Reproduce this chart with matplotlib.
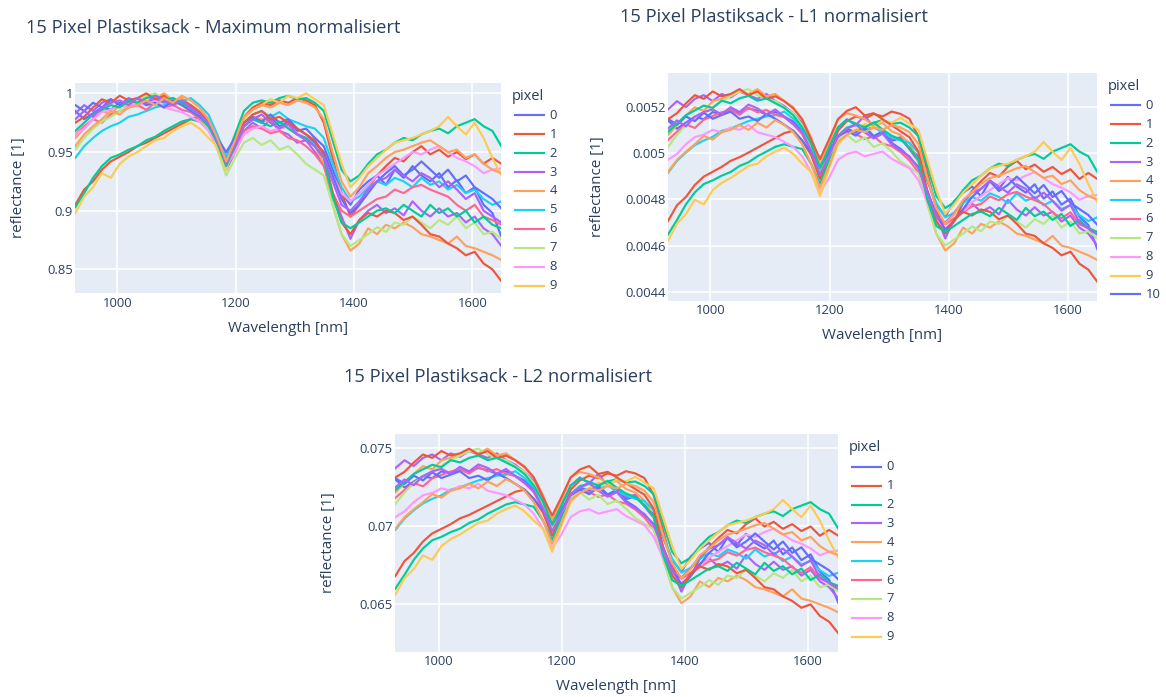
import matplotlib.pyplot as plt
from matplotlib.lines import Line2D
import numpy as np

plt.rcParams['font.family'] = ['Open Sans', 'DejaVu Sans']

# wavelength grid [nm]
wavelength = np.arange(929, 1650, 15)

# --- Maximum normalisiert (x 1e-3) ---
mx0 = [985, 978, 983, 988, 986, 992, 990, 994, 991, 995, 993, 990, 992, 988, 984, 976, 962, 946, 958, 972, 978, 975, 980, 972, 976, 968, 970, 962, 955, 935, 915, 905, 918, 925, 930, 922, 935, 928, 938, 930, 925, 932, 920, 926, 915, 920, 905, 898, 878]
mx1 = [905, 918, 925, 935, 942, 946, 950, 955, 958, 962, 966, 970, 974, 978, 980, 972, 960, 940, 958, 980, 988, 992, 990, 994, 992, 996, 994, 990, 975, 945, 915, 895, 905, 920, 930, 938, 945, 942, 950, 955, 948, 952, 946, 950, 944, 948, 940, 945, 940]
mx2 = [903, 915, 928, 938, 945, 948, 952, 955, 960, 963, 968, 972, 976, 978, 976, 974, 962, 945, 965, 985, 992, 994, 992, 996, 998, 995, 996, 992, 985, 960, 935, 925, 930, 940, 948, 952, 958, 962, 960, 965, 968, 970, 966, 972, 975, 978, 972, 968, 955]
mx3 = [983, 990, 985, 992, 995, 990, 996, 993, 998, 995, 992, 996, 990, 986, 980, 972, 958, 935, 950, 968, 975, 970, 978, 968, 965, 958, 960, 950, 940, 915, 895, 876, 892, 900, 905, 898, 902, 896, 908, 900, 895, 902, 895, 898, 890, 895, 885, 880, 870]
mx4 = [962, 970, 978, 985, 982, 990, 992, 995, 998, 996, 1000, 994, 996, 990, 985, 975, 960, 938, 955, 975, 980, 978, 975, 970, 972, 965, 962, 955, 940, 905, 880, 866, 872, 885, 880, 888, 885, 890, 886, 880, 878, 875, 872, 878, 870, 868, 865, 862, 858]
mx5 = [945, 955, 962, 968, 972, 975, 980, 982, 985, 988, 990, 992, 993, 996, 990, 982, 965, 945, 960, 975, 982, 985, 980, 984, 978, 975, 972, 970, 962, 940, 920, 908, 912, 920, 925, 922, 928, 925, 920, 928, 922, 925, 918, 922, 915, 918, 910, 905, 908]
mx6 = [965, 972, 978, 975, 982, 985, 988, 990, 986, 992, 988, 990, 986, 984, 978, 970, 955, 940, 952, 968, 972, 970, 966, 968, 962, 960, 955, 948, 938, 915, 900, 895, 900, 905, 910, 912, 918, 915, 920, 922, 918, 915, 912, 905, 900, 905, 895, 892, 888]
mx7 = [952, 962, 970, 976, 980, 985, 990, 994, 998, 1000, 995, 992, 990, 985, 980, 970, 952, 930, 945, 958, 962, 956, 960, 952, 955, 948, 940, 935, 930, 905, 880, 870, 875, 880, 886, 882, 890, 888, 895, 890, 885, 892, 888, 895, 885, 890, 880, 882, 876]
mx8 = [965, 970, 978, 984, 986, 990, 988, 992, 990, 994, 988, 986, 984, 980, 976, 968, 955, 938, 950, 965, 970, 972, 968, 970, 972, 966, 962, 958, 948, 930, 915, 908, 915, 922, 930, 935, 940, 945, 950, 948, 952, 955, 950, 945, 942, 938, 932, 935, 936]
mx9 = [898, 912, 920, 932, 928, 940, 946, 950, 955, 960, 962, 968, 972, 975, 970, 962, 955, 935, 958, 978, 986, 990, 995, 992, 998, 996, 1000, 995, 990, 965, 940, 920, 928, 938, 945, 952, 958, 960, 962, 965, 968, 972, 980, 972, 965, 975, 962, 945, 930]
mx10 = [990, 985, 992, 988, 995, 990, 993, 996, 990, 992, 988, 994, 990, 985, 980, 972, 962, 950, 962, 975, 980, 976, 982, 975, 978, 970, 965, 958, 950, 930, 910, 898, 905, 915, 925, 932, 938, 930, 935, 942, 935, 928, 935, 925, 930, 920, 915, 910, 902]
mx11 = [975, 980, 988, 995, 992, 998, 994, 996, 1000, 995, 998, 992, 994, 990, 984, 975, 958, 942, 958, 975, 982, 985, 978, 980, 975, 970, 965, 960, 948, 915, 890, 880, 892, 898, 895, 900, 898, 892, 895, 888, 880, 878, 872, 868, 862, 865, 855, 850, 840]
mx12 = [968, 975, 982, 986, 990, 988, 994, 992, 996, 998, 994, 996, 992, 988, 982, 972, 958, 938, 955, 972, 978, 975, 972, 976, 970, 965, 962, 955, 945, 912, 890, 885, 890, 895, 900, 902, 898, 905, 900, 895, 905, 898, 902, 895, 900, 890, 895, 888, 885]
mx13 = [978, 985, 980, 988, 992, 994, 990, 996, 992, 998, 995, 990, 994, 988, 982, 975, 960, 940, 956, 972, 978, 982, 975, 970, 974, 965, 960, 955, 945, 925, 905, 900, 908, 918, 925, 928, 935, 930, 925, 932, 928, 920, 925, 918, 910, 915, 900, 895, 890]
mx14 = [955, 965, 972, 978, 985, 982, 988, 990, 994, 990, 996, 992, 998, 994, 988, 978, 962, 942, 960, 980, 986, 990, 988, 992, 990, 994, 992, 988, 978, 950, 925, 912, 920, 932, 938, 945, 950, 952, 955, 958, 960, 955, 950, 952, 945, 948, 940, 935, 932]

# --- L1 normalisiert (x 1e-6) ---
l1_0 = [5141, 5105, 5131, 5157, 5146, 5177, 5167, 5188, 5172, 5193, 5183, 5167, 5177, 5157, 5136, 5094, 5021, 4938, 5001, 5073, 5105, 5089, 5115, 5073, 5094, 5053, 5063, 5021, 4985, 4881, 4777, 4725, 4793, 4829, 4855, 4813, 4881, 4845, 4897, 4855, 4829, 4865, 4803, 4834, 4777, 4803, 4725, 4689, 4585]
l1_1 = [4706, 4774, 4810, 4862, 4898, 4919, 4940, 4966, 4982, 5002, 5023, 5044, 5065, 5086, 5096, 5054, 4992, 4888, 4982, 5096, 5138, 5158, 5148, 5169, 5158, 5179, 5169, 5148, 5070, 4914, 4758, 4654, 4706, 4784, 4836, 4878, 4914, 4898, 4940, 4966, 4930, 4950, 4919, 4940, 4909, 4930, 4888, 4914, 4888]
l1_2 = [4648, 4710, 4778, 4830, 4866, 4882, 4902, 4918, 4944, 4960, 4986, 5006, 5027, 5038, 5027, 5017, 4954, 4866, 4970, 5074, 5110, 5121, 5110, 5131, 5142, 5126, 5131, 5110, 5074, 4944, 4814, 4762, 4788, 4840, 4882, 4902, 4934, 4954, 4944, 4970, 4986, 4996, 4975, 5006, 5022, 5038, 5006, 4986, 4918]
l1_3 = [5188, 5224, 5198, 5234, 5250, 5224, 5255, 5240, 5266, 5250, 5234, 5255, 5224, 5203, 5172, 5130, 5058, 4938, 5016, 5110, 5146, 5120, 5162, 5110, 5094, 5058, 5068, 5016, 4964, 4834, 4730, 4631, 4714, 4756, 4782, 4746, 4766, 4735, 4798, 4756, 4730, 4766, 4730, 4746, 4704, 4730, 4678, 4652, 4600]
l1_4 = [5078, 5120, 5162, 5198, 5182, 5224, 5234, 5250, 5266, 5255, 5276, 5245, 5255, 5224, 5198, 5146, 5068, 4954, 5042, 5146, 5172, 5162, 5146, 5120, 5130, 5094, 5078, 5042, 4964, 4782, 4652, 4579, 4610, 4678, 4652, 4694, 4678, 4704, 4683, 4652, 4642, 4626, 4610, 4642, 4600, 4590, 4574, 4558, 4538]
l1_5 = [4914, 4966, 5002, 5034, 5054, 5070, 5096, 5106, 5122, 5138, 5148, 5158, 5164, 5179, 5148, 5106, 5018, 4914, 4992, 5070, 5106, 5122, 5096, 5117, 5086, 5070, 5054, 5044, 5002, 4888, 4784, 4722, 4742, 4784, 4810, 4794, 4826, 4810, 4784, 4826, 4794, 4810, 4774, 4794, 4758, 4774, 4732, 4706, 4722]
l1_6 = [5056, 5092, 5124, 5108, 5144, 5160, 5176, 5186, 5165, 5196, 5176, 5186, 5165, 5155, 5124, 5082, 5004, 4926, 4988, 5072, 5092, 5082, 5061, 5072, 5040, 5030, 5004, 4968, 4916, 4796, 4718, 4692, 4718, 4744, 4770, 4780, 4812, 4796, 4822, 4832, 4812, 4796, 4780, 4744, 4718, 4744, 4692, 4676, 4656]
l1_7 = [5026, 5078, 5120, 5151, 5172, 5198, 5224, 5245, 5266, 5276, 5250, 5234, 5224, 5198, 5172, 5120, 5026, 4912, 4990, 5058, 5078, 5047, 5068, 5026, 5042, 5006, 4964, 4938, 4912, 4782, 4652, 4600, 4626, 4652, 4683, 4662, 4704, 4694, 4730, 4704, 4678, 4714, 4694, 4730, 4678, 4704, 4652, 4662, 4631]
l1_8 = [4970, 4996, 5038, 5069, 5079, 5100, 5090, 5110, 5100, 5121, 5090, 5079, 5069, 5048, 5027, 4986, 4918, 4830, 4892, 4970, 4996, 5006, 4986, 4996, 5006, 4975, 4954, 4934, 4882, 4788, 4710, 4674, 4710, 4746, 4788, 4814, 4840, 4866, 4892, 4882, 4902, 4918, 4892, 4866, 4850, 4830, 4798, 4814, 4819]
l1_9 = [4622, 4694, 4736, 4798, 4778, 4840, 4871, 4892, 4918, 4944, 4954, 4986, 5006, 5022, 4996, 4954, 4918, 4814, 4934, 5038, 5079, 5100, 5126, 5110, 5142, 5131, 5152, 5126, 5100, 4970, 4840, 4736, 4778, 4830, 4866, 4902, 4934, 4944, 4954, 4970, 4986, 5006, 5048, 5006, 4970, 5022, 4954, 4866, 4788]
l1_10 = [5148, 5122, 5158, 5138, 5174, 5148, 5164, 5179, 5148, 5158, 5138, 5169, 5148, 5122, 5096, 5054, 5002, 4940, 5002, 5070, 5096, 5075, 5106, 5070, 5086, 5044, 5018, 4982, 4940, 4836, 4732, 4670, 4706, 4758, 4810, 4846, 4878, 4836, 4862, 4898, 4862, 4826, 4862, 4810, 4836, 4784, 4758, 4732, 4690]
l1_11 = [5146, 5172, 5214, 5250, 5234, 5266, 5245, 5255, 5276, 5250, 5266, 5234, 5245, 5224, 5193, 5146, 5058, 4974, 5058, 5146, 5182, 5198, 5162, 5172, 5146, 5120, 5094, 5068, 5006, 4834, 4704, 4652, 4714, 4746, 4730, 4756, 4746, 4714, 4730, 4694, 4652, 4642, 4610, 4590, 4558, 4574, 4522, 4496, 4444]
l1_12 = [5091, 5127, 5163, 5184, 5205, 5195, 5226, 5215, 5236, 5247, 5226, 5236, 5215, 5195, 5163, 5111, 5039, 4935, 5023, 5111, 5143, 5127, 5111, 5132, 5101, 5075, 5059, 5023, 4971, 4799, 4685, 4659, 4685, 4711, 4737, 4747, 4727, 4763, 4737, 4711, 4763, 4727, 4747, 4711, 4737, 4685, 4711, 4675, 4659]
l1_13 = [5105, 5141, 5115, 5157, 5177, 5188, 5167, 5198, 5177, 5209, 5193, 5167, 5188, 5157, 5125, 5089, 5011, 4907, 4990, 5073, 5105, 5125, 5089, 5063, 5084, 5037, 5011, 4985, 4933, 4829, 4725, 4699, 4741, 4793, 4829, 4845, 4881, 4855, 4829, 4865, 4845, 4803, 4829, 4793, 4751, 4777, 4699, 4673, 4647]
l1_14 = [4918, 4970, 5006, 5038, 5074, 5058, 5090, 5100, 5121, 5100, 5131, 5110, 5142, 5121, 5090, 5038, 4954, 4850, 4944, 5048, 5079, 5100, 5090, 5110, 5100, 5121, 5110, 5090, 5038, 4892, 4762, 4694, 4736, 4798, 4830, 4866, 4892, 4902, 4918, 4934, 4944, 4918, 4892, 4902, 4866, 4882, 4840, 4814, 4798]

# --- L2 normalisiert (x 1e-5) ---
l2_0 = [7297, 7246, 7283, 7319, 7305, 7349, 7334, 7364, 7342, 7371, 7356, 7334, 7349, 7319, 7290, 7231, 7128, 7009, 7098, 7201, 7246, 7224, 7260, 7201, 7231, 7172, 7187, 7128, 7076, 6928, 6781, 6707, 6803, 6855, 6891, 6832, 6928, 6877, 6950, 6891, 6855, 6906, 6818, 6862, 6781, 6818, 6707, 6655, 6508]
l2_1 = [6679, 6775, 6827, 6900, 6952, 6981, 7011, 7048, 7070, 7100, 7129, 7159, 7188, 7218, 7232, 7173, 7085, 6937, 7070, 7232, 7291, 7321, 7306, 7336, 7321, 7350, 7336, 7306, 7196, 6974, 6753, 6605, 6679, 6790, 6863, 6922, 6974, 6952, 7011, 7048, 6996, 7026, 6981, 7011, 6967, 6996, 6937, 6974, 6937]
l2_2 = [6598, 6687, 6783, 6856, 6908, 6930, 6960, 6982, 7019, 7041, 7078, 7107, 7137, 7152, 7137, 7122, 7034, 6908, 7056, 7203, 7255, 7270, 7255, 7284, 7299, 7277, 7284, 7255, 7203, 7019, 6834, 6761, 6797, 6871, 6930, 6960, 7004, 7034, 7019, 7056, 7078, 7093, 7063, 7107, 7130, 7152, 7107, 7078, 6982]
l2_3 = [7369, 7420, 7383, 7435, 7457, 7420, 7464, 7442, 7479, 7457, 7435, 7464, 7420, 7391, 7346, 7287, 7184, 7014, 7125, 7258, 7310, 7273, 7332, 7258, 7236, 7184, 7199, 7125, 7051, 6867, 6719, 6579, 6697, 6756, 6793, 6741, 6771, 6726, 6815, 6756, 6719, 6771, 6719, 6741, 6682, 6719, 6645, 6608, 6535]
l2_4 = [7214, 7273, 7332, 7383, 7361, 7420, 7435, 7457, 7479, 7464, 7494, 7450, 7464, 7420, 7383, 7310, 7199, 7036, 7162, 7310, 7346, 7332, 7310, 7273, 7287, 7236, 7214, 7162, 7051, 6793, 6608, 6505, 6549, 6645, 6608, 6667, 6645, 6682, 6653, 6608, 6594, 6572, 6549, 6594, 6535, 6520, 6498, 6476, 6446]
l2_5 = [6974, 7048, 7100, 7144, 7173, 7196, 7232, 7247, 7269, 7291, 7306, 7321, 7328, 7350, 7306, 7247, 7122, 6974, 7085, 7196, 7247, 7269, 7232, 7262, 7218, 7196, 7173, 7159, 7100, 6937, 6790, 6701, 6731, 6790, 6827, 6804, 6849, 6827, 6790, 6849, 6804, 6827, 6775, 6804, 6753, 6775, 6716, 6679, 6701]
l2_6 = [7179, 7230, 7275, 7253, 7304, 7326, 7348, 7363, 7334, 7378, 7348, 7363, 7334, 7319, 7275, 7216, 7105, 6994, 7083, 7201, 7230, 7216, 7186, 7201, 7157, 7142, 7105, 7053, 6979, 6810, 6699, 6662, 6699, 6736, 6773, 6788, 6832, 6810, 6847, 6861, 6832, 6810, 6788, 6736, 6699, 6736, 6662, 6640, 6610]
l2_7 = [7140, 7214, 7273, 7317, 7346, 7383, 7420, 7450, 7479, 7494, 7457, 7435, 7420, 7383, 7346, 7273, 7140, 6977, 7088, 7184, 7214, 7169, 7199, 7140, 7162, 7110, 7051, 7014, 6977, 6793, 6608, 6535, 6572, 6608, 6653, 6623, 6682, 6667, 6719, 6682, 6645, 6697, 6667, 6719, 6645, 6682, 6608, 6623, 6579]
l2_8 = [7056, 7093, 7152, 7196, 7211, 7240, 7225, 7255, 7240, 7270, 7225, 7211, 7196, 7166, 7137, 7078, 6982, 6856, 6945, 7056, 7093, 7107, 7078, 7093, 7107, 7063, 7034, 7004, 6930, 6797, 6687, 6635, 6687, 6738, 6797, 6834, 6871, 6908, 6945, 6930, 6960, 6982, 6945, 6908, 6886, 6856, 6812, 6834, 6842]
l2_9 = [6561, 6665, 6724, 6812, 6783, 6871, 6915, 6945, 6982, 7019, 7034, 7078, 7107, 7130, 7093, 7034, 6982, 6834, 7004, 7152, 7211, 7240, 7277, 7255, 7299, 7284, 7314, 7277, 7240, 7056, 6871, 6724, 6783, 6856, 6908, 6960, 7004, 7019, 7034, 7056, 7078, 7107, 7166, 7107, 7056, 7130, 7034, 6908, 6797]
l2_10 = [7306, 7269, 7321, 7291, 7343, 7306, 7328, 7350, 7306, 7321, 7291, 7336, 7306, 7269, 7232, 7173, 7100, 7011, 7100, 7196, 7232, 7203, 7247, 7196, 7218, 7159, 7122, 7070, 7011, 6863, 6716, 6627, 6679, 6753, 6827, 6878, 6922, 6863, 6900, 6952, 6900, 6849, 6900, 6827, 6863, 6790, 6753, 6716, 6657]
l2_11 = [7310, 7346, 7405, 7457, 7435, 7479, 7450, 7464, 7494, 7457, 7479, 7435, 7450, 7420, 7376, 7310, 7184, 7066, 7184, 7310, 7361, 7383, 7332, 7346, 7310, 7273, 7236, 7199, 7110, 6867, 6682, 6608, 6697, 6741, 6719, 6756, 6741, 6697, 6719, 6667, 6608, 6594, 6549, 6520, 6476, 6498, 6424, 6387, 6313]
l2_12 = [7229, 7281, 7332, 7362, 7391, 7376, 7421, 7406, 7435, 7450, 7421, 7435, 7406, 7376, 7332, 7258, 7155, 7007, 7133, 7258, 7303, 7281, 7258, 7288, 7244, 7207, 7185, 7133, 7059, 6816, 6653, 6616, 6653, 6690, 6727, 6742, 6712, 6764, 6727, 6690, 6764, 6712, 6742, 6690, 6727, 6653, 6690, 6638, 6616]
l2_13 = [7246, 7297, 7260, 7319, 7349, 7364, 7334, 7378, 7349, 7393, 7371, 7334, 7364, 7319, 7275, 7224, 7113, 6965, 7083, 7201, 7246, 7275, 7224, 7187, 7216, 7150, 7113, 7076, 7002, 6855, 6707, 6670, 6729, 6803, 6855, 6877, 6928, 6891, 6855, 6906, 6877, 6818, 6855, 6803, 6744, 6781, 6670, 6633, 6596]
l2_14 = [6982, 7056, 7107, 7152, 7203, 7181, 7225, 7240, 7270, 7240, 7284, 7255, 7299, 7270, 7225, 7152, 7034, 6886, 7019, 7166, 7211, 7240, 7225, 7255, 7240, 7270, 7255, 7225, 7152, 6945, 6761, 6665, 6724, 6812, 6856, 6908, 6945, 6960, 6982, 7004, 7019, 6982, 6945, 6960, 6908, 6930, 6871, 6834, 6812]

max_norm = [mx0, mx1, mx2, mx3, mx4, mx5, mx6, mx7, mx8, mx9, mx10, mx11, mx12, mx13, mx14]
l1_norm = [l1_0, l1_1, l1_2, l1_3, l1_4, l1_5, l1_6, l1_7, l1_8, l1_9, l1_10, l1_11, l1_12, l1_13, l1_14]
l2_norm = [l2_0, l2_1, l2_2, l2_3, l2_4, l2_5, l2_6, l2_7, l2_8, l2_9, l2_10, l2_11, l2_12, l2_13, l2_14]

colors = ['#636EFA', '#EF553B', '#00CC96', '#AB63FA', '#FFA15A',
          '#19D3F3', '#FF6692', '#B6E880', '#FF97FF', '#FECB52']
TXT = '#2a3f5f'
W, H = 1166, 697

fig = plt.figure(figsize=(W / 100, H / 100), dpi=100)


def fx(x):
    return x / W


def fy(y):
    return 1 - y / H


# boxes in pixels: left, top, right, bottom
panels = [
    dict(data=max_norm, scale=1e-3, title='15 Pixel Plastiksack - Maximum normalisiert',
         title_xy=(26, 28), box=(75, 82.7, 501, 293.3), ylim=(0.8296, 1.0091),
         yticks=[0.85, 0.9, 0.95, 1.0], ylabels=['0.85', '0.9', '0.95', '1'],
         ylab_x=18.5, n_leg=10),
    dict(data=l1_norm, scale=1e-6, title='15 Pixel Plastiksack - L1 normalisiert',
         title_xy=(620, 17), box=(667.7, 72.7, 1097, 300.7), ylim=(0.004362, 0.005347),
         yticks=[0.0044, 0.0046, 0.0048, 0.005, 0.0052],
         ylabels=['0.0044', '0.0046', '0.0048', '0.005', '0.0052'],
         ylab_x=597, n_leg=11),
    dict(data=l2_norm, scale=1e-5, title='15 Pixel Plastiksack - L2 normalisiert',
         title_xy=(344, 377), box=(395, 434, 838, 651.7), ylim=(0.06195, 0.07588),
         yticks=[0.065, 0.07, 0.075], ylabels=['0.065', '0.07', '0.075'],
         ylab_x=328.5, n_leg=10),
]

for p in panels:
    l, t, r, b = p['box']
    ax = fig.add_axes([fx(l), fy(b), fx(r - l), (b - t) / H])
    ax.set_facecolor('#E5ECF6')
    for k, series in enumerate(p['data']):
        ax.plot(wavelength, np.array(series) * p['scale'],
                color=colors[k % 10], lw=1.55, solid_joinstyle='round')
    ax.set_xlim(928.5, 1648.5)
    ax.set_ylim(*p['ylim'])
    ax.set_xticks([1000, 1200, 1400, 1600])
    ax.set_yticks(p['yticks'])
    ax.set_yticklabels(p['ylabels'])
    ax.grid(True, color='white', lw=1.1)
    ax.set_axisbelow(True)
    for s in ax.spines.values():
        s.set_visible(False)
    ax.tick_params(length=0, labelsize=9.35, colors=TXT)
    ax.tick_params(axis='x', pad=2.5)
    ax.tick_params(axis='y', pad=1.5)

    fig.text(fx(p['title_xy'][0]), fy(p['title_xy'][1]), p['title'],
             fontsize=13.2, color=TXT, ha='left', va='center')
    fig.text(fx((l + r) / 2), fy(b + 35), 'Wavelength [nm]',
             fontsize=10.9, color=TXT, ha='center', va='center')
    fig.text(fx(p['ylab_x']), fy((t + b) / 2), 'reflectance [1]',
             fontsize=10.9, color=TXT, ha='center', va='center', rotation=90)

    # legend (only the entries that fit in the figure)
    lx, ly = r + 10.7, t + 13.5
    fig.text(fx(lx), fy(ly), 'pixel', fontsize=10.5, color=TXT, ha='left', va='center')
    for k in range(p['n_leg']):
        yy = ly + 19.2 + 18.9 * k
        fig.add_artist(Line2D([fx(r + 13.5), fx(r + 42.5)], [fy(yy), fy(yy)],
                              color=colors[k % 10], lw=1.55))
        fig.text(fx(r + 48.5), fy(yy), str(k), fontsize=9.35, color=TXT,
                 ha='left', va='center')

fig.savefig('out.png', dpi=100, facecolor='white')
